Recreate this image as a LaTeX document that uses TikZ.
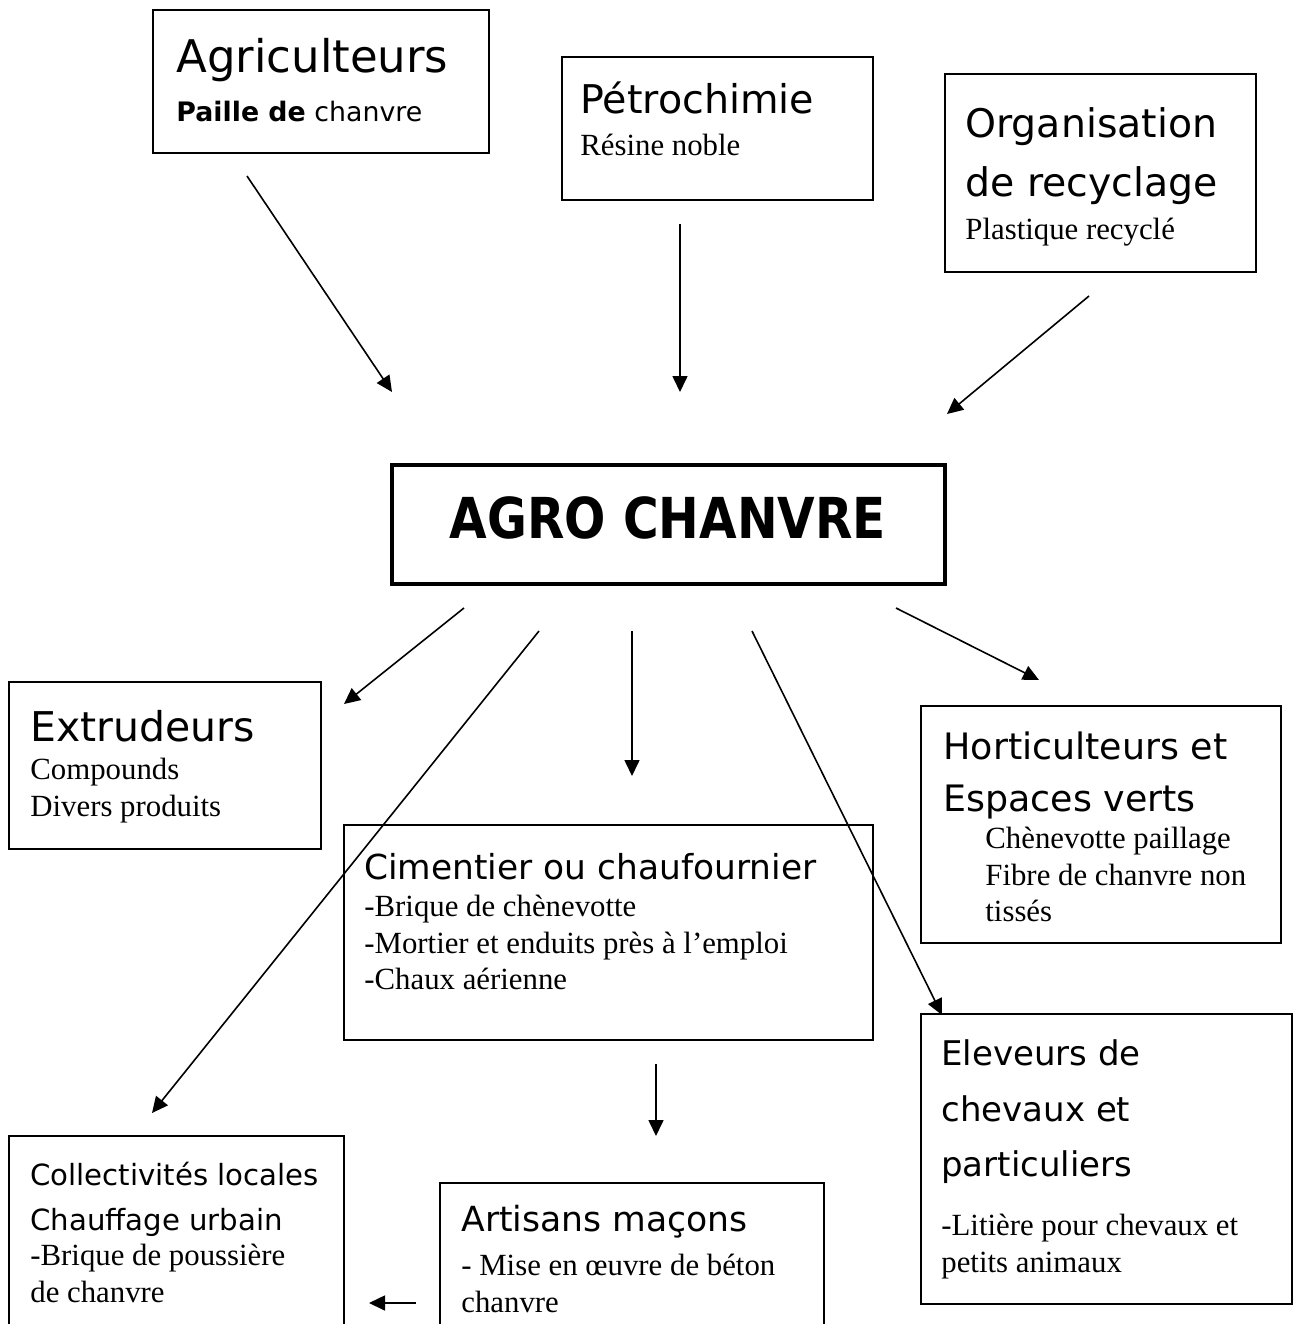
\documentclass[tikz,border=0pt]{standalone}
\usepackage{fontspec}
\setmainfont{Liberation Serif}
\newfontfamily\hfont[BoldFont={DejaVu Sans Bold}]{DejaVu Sans}
\usetikzlibrary{arrows.meta,fit}
\tikzset{
  box/.style={draw, line width=1pt, inner sep=0pt},
  hdr/.style={anchor=base west, inner sep=0pt, font=\hfont\fontsize{#1}{#1}\selectfont},
  txt/.style={anchor=base west, inner sep=0pt, font=\fontsize{15.4}{18}\selectfont},
  arr/.style={line width=0.8pt, -{Triangle[length=8pt,width=7.5pt]}}
}
\begin{document}
\begin{tikzpicture}[x=0.5pt,y=-0.5pt]
\useasboundingbox (0,0) rectangle (1304,1324);
\clip (0,0) rectangle (1304,1324);
\fill[white] (0,0) rectangle (1304,1324);
% boxes
\node[box, fit={(153,10)(489,153)}] (agri) {};
\node[box, fit={(562,57)(873,200)}] (petro) {};
\node[box, fit={(945,74)(1256,272)}] (recy) {};
\node[box, line width=1.8pt, fit={(392,465)(945,584)}] (agro) {};
\node[box, fit={(9,682)(321,849)}] (extr) {};
\node[box, fit={(344,825)(873,1040)}] (cim) {};
\node[box, fit={(921,706)(1281,943)}] (hort) {};
\node[box, fit={(921,1014)(1292,1304)}] (elev) {};
\node[box, fit={(9,1136)(344,1360)}] (coll) {};
\node[box, fit={(440,1183)(824,1360)}] (arti) {};
% texts
\node[hdr=22.5] (t1) at (176,72) {Agriculteurs};
\node[hdr=13.4] (t2) at (176,121) {\textbf{Paille de} chanvre};
\node[hdr=19.8] (t3) at (580,113) {Pétrochimie};
\node[txt] (t4) at (580,155) {Résine noble};
\node[hdr=19.7] (t5) at (965,137) {Organisation};
\node[hdr=19.7] (t6) at (965,196) {de recyclage};
\node[txt] (t7) at (965,239) {Plastique recyclé};
\node[anchor=base, inner sep=0pt, font=\hfont\bfseries\fontsize{21.7}{21.7}\selectfont] (t8) at (668,538) {\scalebox{1.12}[1.3]{AGRO CHANVRE}};
\node[hdr=20.5] (t9) at (30,741) {Extrudeurs};
\node[txt] (t10) at (30,779) {Compounds};
\node[txt] (t11) at (30,816) {Divers produits};
\node[hdr=17.2] (t12) at (364,879) {Cimentier ou chaufournier};
\node[txt] (t13) at (364,916) {-Brique de chènevotte};
\node[txt] (t14) at (364,953) {-Mortier et enduits près à l’emploi};
\node[txt] (t15) at (364,989) {-Chaux aérienne};
\node[hdr=18.2] (t16) at (943,759) {Horticulteurs et};
\node[hdr=18.2] (t17) at (943,811) {Espaces verts};
\node[txt] (t18) at (985,848) {Chènevotte paillage};
\node[txt] (t19) at (985,885) {Fibre de chanvre non};
\node[txt] (t20) at (985,921) {tissés};
\node[hdr=17] (t21) at (941,1065) {Eleveurs de};
\node[hdr=17] (t22) at (941,1121) {chevaux et};
\node[hdr=17] (t23) at (941,1176) {particuliers};
\node[txt] (t24) at (941,1235) {-Litière pour chevaux et};
\node[txt] (t25) at (941,1272) {petits animaux};
\node[hdr=14.6] (t26) at (30,1185) {Collectivités locales};
\node[hdr=14.6] (t27) at (30,1230) {Chauffage urbain};
\node[txt] (t28) at (30,1265) {-Brique de poussière};
\node[txt] (t29) at (30,1302) {de chanvre};
\node[hdr=17.3] (t30) at (461,1231) {Artisans maçons};
\node[txt] (t31) at (461,1275) {- Mise en œuvre de béton};
\node[txt] (t32) at (461,1312) {chanvre};
% arrow end points
\coordinate (a1s) at (247,176);  \coordinate (a1e) at (392,392);
\coordinate (a2s) at (680,224);  \coordinate (a2e) at (680,392);
\coordinate (a3s) at (1089,296); \coordinate (a3e) at (947,414);
\coordinate (a4s) at (464,608);  \coordinate (a4e) at (344,704);
\coordinate (a5s) at (539,631);  \coordinate (a5e) at (152,1113);
\coordinate (a6s) at (632,631);  \coordinate (a6e) at (632,776);
\coordinate (a7s) at (752,631);  \coordinate (a7e) at (942,1015);
\coordinate (a8s) at (896,608);  \coordinate (a8e) at (1039,680);
\coordinate (a9s) at (656,1064); \coordinate (a9e) at (656,1136);
\coordinate (a10s) at (416,1303); \coordinate (a10e) at (369,1303);
\foreach \i in {1,...,10} { \draw[arr] (a\i s) -- (a\i e); }
\end{tikzpicture}
\end{document}
